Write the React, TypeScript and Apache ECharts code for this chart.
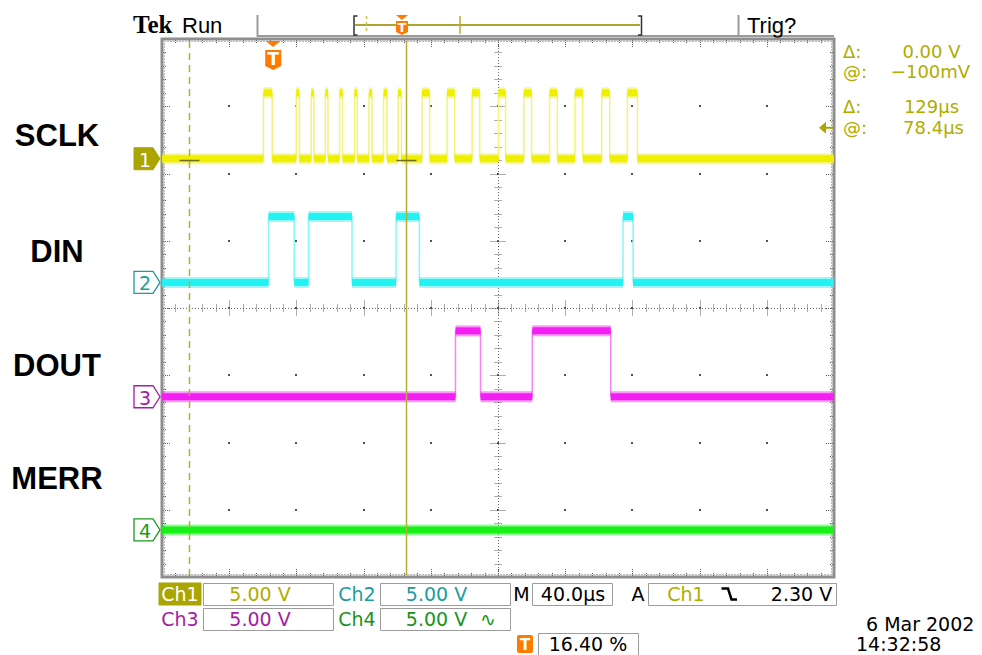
import React, { useEffect, useRef } from "react";
import * as echarts from "echarts";

// ---- axis model: time in µs from the left edge of the screen (40 µs/div), vertical in divisions ----
const X_MIN = 0;
const X_MAX = 400;
const X_STEP = 40;
const Y_MIN = -4;
const Y_MAX = 4;
const Y_STEP = 1;
const VOLTS_PER_DIV = 5;
const HIGH_V = 4.9;

// ---- channel data ----
const channelNames = ["SCLK", "DIN", "DOUT", "MERR"];
const channelOffsets = [2.22, 0.38, -1.32, -3.3]; // ground marker position, divisions
// pulses as [rise µs, fall µs]
const sclkPulses = [
  [60.4, 65.6], [79.9, 81.8], [88.8, 90.4], [97.2, 98.8], [105.7, 107.5], [114.6, 116.2],
  [123.2, 125.0], [131.9, 133.9], [140.5, 142.5], [154.8, 159.3], [169.7, 174.2],
  [184.6, 189.1], [200.3, 204.5], [215.4, 220.0], [230.7, 235.3], [245.8, 250.5],
  [261.7, 266.5], [277.0, 283.0],
];
const dinPulses = [[63.4, 78.7], [87.2, 113.1], [139.3, 153.2], [274.4, 280.4]];
const doutPulses = [[174.7, 189.6], [220.4, 267.1]];
const merrPulses: number[][] = [];
const channelPulses = [sclkPulses, dinPulses, doutPulses, merrPulses];

const triggerTime = 65.6;
const triggerLevelV = 2.3;
const cursorTimes = [16.3, 145.0];
const cursorLevelV = -0.1;

// readouts
const cursorReadout = [
  ["Δ:", "0.00 V"],
  ["@:", "−100mV"],
  ["Δ:", "129µs"],
  ["@:", "78.4µs"],
];
const chScaleText = ["5.00 V", "5.00 V", "5.00 V", "5.00 V"];
const timebaseText = "40.0µs";
const trigText = ["Ch1", "2.30 V"];
const trigPosText = "16.40 %";
const dateText = "6 Mar 2002";
const timeText = "14:32:58";

// ---- colours ----
const traceColors = ["#efef00", "#22f2f2", "#f21ef2", "#18f018"];
const edgeColors = ["#f3f37a", "#86f6f6", "#f684f6", "#86f686"];
const markerColors = ["#aaa500", "#1c9c9c", "#a41ca4", "#1c9a1c"];
const textColors = ["#b0ac00", "#1c9c9c", "#a41ca4", "#18941a"];
const ORANGE = "#ff7a00";
const CURSOR = "#b3ae35";

const RO_FONT = '19px "DejaVu Sans"';
const CUR_FONT = '18px "DejaVu Sans"';

function levelSegments(pulses: number[][], off: number) {
  const hi = off + HIGH_V / VOLTS_PER_DIV;
  const segs: number[][] = [];
  let t = X_MIN;
  for (const [r, f] of pulses) {
    segs.push([t, r, off]);
    segs.push([r, f, hi]);
    t = f;
  }
  segs.push([t, X_MAX, off]);
  return segs;
}

function edgePoints(pulses: number[][], off: number) {
  const hi = off + HIGH_V / VOLTS_PER_DIV;
  const pts: number[][] = [[X_MIN, off]];
  for (const [r, f] of pulses) pts.push([r, off], [r, hi], [f, hi], [f, off]);
  pts.push([X_MAX, off]);
  return pts;
}

const txt = (text: string, x: number, y: number, font: string, fill: string, align = "left") => ({
  type: "text",
  x,
  y,
  silent: true,
  style: { text, font, fill, align, verticalAlign: "middle", textAlign: align, textVerticalAlign: "middle" },
});
const box = (x: number, y: number, w: number, h: number, stroke = "#9c9c9c", fill = "none") => ({
  type: "rect",
  silent: true,
  shape: { x, y, width: w, height: h },
  style: { stroke, fill, lineWidth: 1 },
});
const seg = (x1: number, y1: number, x2: number, y2: number, stroke: string, lineWidth = 1, lineDash?: number[]) => ({
  type: "line",
  silent: true,
  shape: { x1, y1, x2, y2 },
  style: { stroke, lineWidth, lineDash },
});

const px = (v: number) => Math.round(v) + 0.5;

function renderGraticule(_p: any, api: any) {
  const tl = api.coord([X_MIN, Y_MAX]);
  const br = api.coord([X_MAX, Y_MIN]);
  const nx = (X_MAX - X_MIN) / X_STEP;
  const ny = (Y_MAX - Y_MIN) / Y_STEP;
  const dx = (br[0] - tl[0]) / nx;
  const dy = (br[1] - tl[1]) / ny;
  const cx = px(tl[0] + (dx * nx) / 2);
  const cy = px(tl[1] + (dy * ny) / 2);
  const ch: any[] = [];
  const tick = { stroke: "#5a5a5a", lineWidth: 1, lineDash: [1, 1] };
  for (let i = 1; i < nx; i++)
    for (let j = 1; j < ny; j++)
      ch.push({ type: "rect", shape: { x: Math.round(tl[0] + i * dx) - 1, y: Math.round(tl[1] + j * dy) - 1, width: 2, height: 2 }, style: { fill: "#505050" } });
  ch.push({ type: "line", shape: { x1: cx, y1: tl[1], x2: cx, y2: br[1] }, style: { stroke: "#6a6a6a", lineWidth: 1, lineDash: [1, 2] } });
  ch.push({ type: "line", shape: { x1: tl[0], y1: cy, x2: br[0], y2: cy }, style: { stroke: "#6a6a6a", lineWidth: 1, lineDash: [1, 2] } });
  for (let k = 1; k < nx * 5; k++) {
    const x = px(tl[0] + (k * dx) / 5);
    const major = k % 5 === 0;
    const h = major ? 8 : 4;
    ch.push({ type: "line", shape: { x1: x, y1: cy - h, x2: x, y2: cy + h }, style: tick });
    const e = major ? 9 : 4;
    ch.push({ type: "line", shape: { x1: x, y1: tl[1] + 1, x2: x, y2: tl[1] + e }, style: tick });
    ch.push({ type: "line", shape: { x1: x, y1: br[1] - 1, x2: x, y2: br[1] - e }, style: tick });
  }
  for (let k = 1; k < ny * 5; k++) {
    const y = px(tl[1] + (k * dy) / 5);
    const major = k % 5 === 0;
    const h = major ? 8 : 4;
    ch.push({ type: "line", shape: { x1: cx - h, y1: y, x2: cx + h, y2: y }, style: tick });
    const e = major ? 9 : 4;
    ch.push({ type: "line", shape: { x1: tl[0] + 1, y1: y, x2: tl[0] + e, y2: y }, style: tick });
    ch.push({ type: "line", shape: { x1: br[0] - 1, y1: y, x2: br[0] - e, y2: y }, style: tick });
  }
  ch.push({ type: "rect", shape: { x: tl[0] + 2.5, y: tl[1] + 2.5, width: br[0] - tl[0] - 5, height: br[1] - tl[1] - 5 }, style: { fill: "none", stroke: "#777", lineWidth: 1, lineDash: [1, 2] } });
  ch.push({ type: "rect", shape: { x: tl[0], y: tl[1], width: br[0] - tl[0], height: br[1] - tl[1] }, style: { fill: "none", stroke: "#8e8e8e", lineWidth: 3 } });
  return { type: "group", children: ch };
}

const makeBand = (color: string) => (_p: any, api: any) => {
  const p0 = api.coord([api.value(0), api.value(2)]);
  const p1 = api.coord([api.value(1), api.value(2)]);
  const w = Math.max(p1[0] - p0[0], 1.5);
  return {
    type: "group",
    children: [
      { type: "rect", shape: { x: p0[0], y: p0[1] - 5.5, width: w, height: 11 }, style: { fill: color, opacity: 0.45 } },
      { type: "rect", shape: { x: p0[0], y: p0[1] - 3.5, width: w, height: 7 }, style: { fill: color } },
    ],
  };
};

function renderMarker(params: any, api: any) {
  const idx = params.dataIndex;
  const p = api.coord([X_MIN, api.value(1)]);
  const x = p[0] - 2;
  const y = p[1];
  const filled = idx === 0;
  const col = markerColors[idx];
  return {
    type: "group",
    children: [
      {
        type: "polygon",
        shape: { points: [[x - 26, y - 11], [x - 7, y - 11], [x, y], [x - 7, y + 11], [x - 26, y + 11]] },
        style: { fill: filled ? col : "#fff", stroke: col, lineWidth: filled ? 1 : 1.3 },
      },
      {
        type: "text",
        x: x - 15,
        y: y + 1,
        style: { text: String(idx + 1), fill: filled ? "#fff" : col, font: '19px "DejaVu Sans"', align: "center", verticalAlign: "middle", textAlign: "center", textVerticalAlign: "middle" },
      },
    ],
  };
}

function renderOverlay(_p: any, api: any) {
  const top = api.coord([X_MIN, Y_MAX])[1];
  const bot = api.coord([X_MIN, Y_MIN])[1];
  const ch: any[] = [];
  const c0 = px(api.coord([cursorTimes[0], 0])[0]);
  const c1 = px(api.coord([cursorTimes[1], 0])[0]);
  ch.push({ type: "line", shape: { x1: c0, y1: top + 2, x2: c0, y2: bot - 2 }, style: { stroke: CURSOR, lineWidth: 1.5, lineDash: [7, 5] } });
  ch.push({ type: "line", shape: { x1: c1, y1: top + 2, x2: c1, y2: bot - 2 }, style: { stroke: CURSOR, lineWidth: 1.5 } });
  const hy = px(api.coord([X_MIN, channelOffsets[0] + cursorLevelV / VOLTS_PER_DIV])[1]);
  ch.push({ type: "line", shape: { x1: c0 - 10, y1: hy, x2: c0 + 10, y2: hy }, style: { stroke: "#6f6c1e", lineWidth: 1.5 } });
  ch.push({ type: "line", shape: { x1: c1 - 10, y1: hy, x2: c1 + 10, y2: hy }, style: { stroke: "#6f6c1e", lineWidth: 1.5 } });
  // trigger level arrow on right edge
  const tl = api.coord([X_MAX, channelOffsets[0] + triggerLevelV / VOLTS_PER_DIV]);
  ch.push({ type: "polygon", shape: { points: [[tl[0] - 15, tl[1]], [tl[0] - 8, tl[1] - 6], [tl[0] - 8, tl[1] + 6]] }, style: { fill: markerColors[0] } });
  ch.push({ type: "line", shape: { x1: tl[0] - 9, y1: tl[1], x2: tl[0] - 1, y2: tl[1] }, style: { stroke: markerColors[0], lineWidth: 2 } });
  // trigger position marker
  const tx = api.coord([triggerTime, Y_MAX])[0] + 1;
  const ty = top;
  ch.push({ type: "polygon", shape: { points: [[tx - 7.5, ty + 2], [tx + 7.5, ty + 2], [tx, ty + 8]] }, style: { fill: ORANGE } });
  ch.push({ type: "polygon", shape: { points: [[tx - 8, ty + 11], [tx + 8, ty + 11], [tx + 8, ty + 27], [tx, ty + 31], [tx - 8, ty + 27]] }, style: { fill: ORANGE } });
  ch.push({ type: "text", x: tx, y: ty + 20, style: { text: "T", fill: "#fff", font: 'bold 17px "DejaVu Sans"', align: "center", verticalAlign: "middle", textAlign: "center", textVerticalAlign: "middle" } });
  return { type: "group", children: ch };
}

function buildGraphics() {
  const g: any[] = [];
  const LABEL_FONT = 'bold 31px "Liberation Sans"';
  const labelY = [135, 251, 365, 478];
  channelNames.forEach((n, i) => g.push(txt(n, 57, labelY[i], LABEL_FONT, "#000", "center")));
  // top bar
  g.push(txt("Tek", 133, 24, 'bold 25px "Liberation Serif"', "#000"));
  g.push(txt("Run", 182, 25, '22px "Liberation Sans"', "#000"));
  g.push(seg(257.5, 15, 257.5, 37, "#9a9a9a", 2));
  g.push(seg(257, 36, 834, 36, "#9a9a9a", 2));
  g.push(seg(738.5, 15, 738.5, 37, "#9a9a9a", 2));
  g.push(txt("Trig?", 747, 25, '22px "Liberation Sans"', "#000"));
  g.push(seg(355, 25, 640, 25, "#aca72f", 2));
  g.push({ type: "polyline", silent: true, shape: { points: [[357.5, 16], [354, 16], [354, 35], [357.5, 35]] }, style: { stroke: "#333", lineWidth: 1.5, fill: "none" } });
  g.push({ type: "polyline", silent: true, shape: { points: [[638, 16], [641.5, 16], [641.5, 35], [638, 35]] }, style: { stroke: "#333", lineWidth: 1.5, fill: "none" } });
  g.push(seg(366.5, 16, 366.5, 34, "#c9c452", 1.5, [3, 3]));
  g.push(seg(460, 16, 460, 34, "#b3ae35", 1.5));
  g.push({ type: "polygon", silent: true, shape: { points: [[396, 15], [408, 15], [402, 20]] }, style: { fill: ORANGE } });
  g.push({ type: "polygon", silent: true, shape: { points: [[396, 21], [408, 21], [408, 32], [402, 35], [396, 32]] }, style: { fill: ORANGE } });
  g.push(txt("T", 402, 27.5, 'bold 13px "DejaVu Sans"', "#fff", "center"));
  // right cursor readouts
  const roY = [51, 71, 106, 127];
  const roX = [931.5, 930.5, 931.5, 933.5];
  cursorReadout.forEach(([a, b], i) => {
    g.push(txt(a, 843, roY[i], CUR_FONT, textColors[0]));
    g.push(txt(b, roX[i], roY[i], CUR_FONT, textColors[0], "center"));
  });
  // bottom readouts
  const r1 = 594, r2 = 619, r3 = 644;
  g.push(box(159, 583, 42, 22, markerColors[0], markerColors[0]));
  g.push(txt("Ch1", 180, r1, RO_FONT, "#fff", "center"));
  g.push(box(203.5, 583.5, 130, 22));
  g.push(txt(chScaleText[0], 260, r1, RO_FONT, textColors[0], "center"));
  g.push(txt("Ch2", 357, r1, RO_FONT, textColors[1], "center"));
  g.push(box(380.5, 583.5, 130, 22));
  g.push(txt(chScaleText[1], 436.5, r1, RO_FONT, textColors[1], "center"));
  g.push(txt("M", 521.5, r1, RO_FONT, "#000", "center"));
  g.push(box(532.5, 583.5, 80, 22));
  g.push(txt(timebaseText, 573, r1, RO_FONT, "#000", "center"));
  g.push(txt("A", 638, r1, RO_FONT, "#000", "center"));
  g.push(box(648.5, 583.5, 188, 22));
  g.push(txt(trigText[0], 686, r1, RO_FONT, textColors[0], "center"));
  g.push({ type: "polyline", silent: true, shape: { points: [[721.5, 588.5], [728, 588.5], [731.5, 599.5], [737, 599.5]] }, style: { stroke: "#000", lineWidth: 2.5, fill: "none" } });
  g.push(txt(trigText[1], 801.5, r1, RO_FONT, "#000", "center"));
  g.push(txt("Ch3", 180, r2, RO_FONT, textColors[2], "center"));
  g.push(box(203.5, 608.5, 130, 22));
  g.push(txt(chScaleText[2], 260, r2, RO_FONT, textColors[2], "center"));
  g.push(txt("Ch4", 357, r2, RO_FONT, textColors[3], "center"));
  g.push(box(380.5, 608.5, 130, 22));
  g.push(txt(chScaleText[3], 436.5, r2, RO_FONT, textColors[3], "center"));
  g.push(txt("∿", 488, r2, RO_FONT, textColors[3], "center"));
  g.push({ type: "rect", silent: true, shape: { x: 517, y: 635, width: 16, height: 18, r: 2 }, style: { fill: ORANGE } });
  g.push(txt("T", 525, 644.5, 'bold 15px "DejaVu Sans"', "#fff", "center"));
  g.push(box(538.5, 633.5, 100, 22));
  g.push(txt(trigPosText, 588, r3, RO_FONT, "#000", "center"));
  g.push(txt(dateText, 866, 624, '19px "DejaVu Sans"', "#000"));
  g.push(txt(timeText, 856, 644, '19px "DejaVu Sans"', "#000"));
  return g;
}

export default function App() {
  const ref = useRef<HTMLDivElement>(null);
  useEffect(() => {
    if (!ref.current) return;
    const chart = echarts.init(ref.current, null, { renderer: "svg" });
    const series: any[] = [
      {
        type: "custom",
        data: [[(X_MIN + X_MAX) / 2, 0]],
        renderItem: renderGraticule,
        silent: true,
        z: 1,
        clip: false,
      },
    ];
    channelPulses.forEach((pulses, i) => {
      series.push({
        type: "line",
        data: edgePoints(pulses, channelOffsets[i]),
        symbol: "none",
        showSymbol: false,
        lineStyle: { color: edgeColors[i], width: 1.5 },
        silent: true,
        z: 3,
      });
      series.push({
        type: "custom",
        dimensions: ["t0", "t1", "lvl"],
        encode: { x: [0, 1], y: 2 },
        data: levelSegments(pulses, channelOffsets[i]),
        renderItem: makeBand(traceColors[i]),
        silent: true,
        z: 4,
        clip: false,
      });
    });
    series.push({
      type: "custom",
      data: channelOffsets.map((o, i) => [i, o]),
      renderItem: renderMarker,
      silent: true,
      z: 6,
      clip: false,
    });
    series.push({
      type: "custom",
      data: [[(X_MIN + X_MAX) / 2, 0]],
      renderItem: renderOverlay,
      silent: true,
      z: 7,
      clip: false,
    });
    chart.setOption({
      animation: false,
      backgroundColor: "#ffffff",
      grid: { left: 162, top: 39, width: 672, height: 538, show: false },
      xAxis: { type: "value", min: X_MIN, max: X_MAX, interval: X_STEP, show: false },
      yAxis: { type: "value", min: Y_MIN, max: Y_MAX, interval: Y_STEP, show: false },
      graphic: buildGraphics(),
      series,
    });
    return () => chart.dispose();
  }, []);
  return (
    <div
      ref={ref}
      style={{ position: "fixed", left: 0, top: 0, width: 982, height: 655, background: "#fff" }}
    />
  );
}
